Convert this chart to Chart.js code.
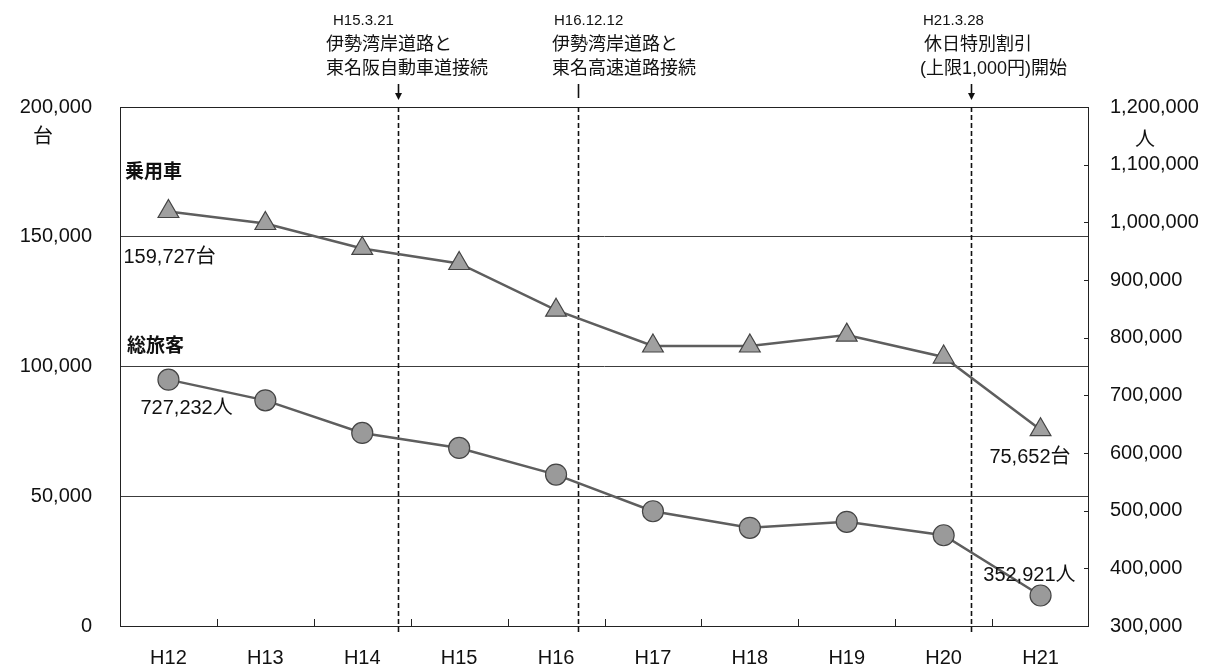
<!DOCTYPE html>
<html>
<head>
<meta charset="utf-8">
<script src="https://cdn.jsdelivr.net/npm/chart.js@4/dist/chart.umd.min.js"></script>
<style>
  html, body { margin: 0; padding: 0; background: #fff; }
  #wrap { position: relative; width: 1210px; height: 668px; }
</style>
</head>
<body>
<div id="wrap"><canvas id="c" width="1210" height="668"></canvas></div>
<script>
// Fiscal years (Heisei)
const years = ['H12', 'H13', 'H14', 'H15', 'H16', 'H17', 'H18', 'H19', 'H20', 'H21'];
// Passenger cars (台), left axis
const carValues = [159727, 155100, 145500, 139700, 121700, 107900, 107900, 112100, 103650, 75652];
// Total passengers (人), right axis
const passengerValues = [727232, 691300, 634800, 608800, 562600, 499000, 470200, 480600, 457400, 352921];
// Axis ticks
const leftTicks = [0, 50000, 100000, 150000, 200000];
const rightTicks = [300000, 400000, 500000, 600000, 700000, 800000, 900000, 1000000, 1100000, 1200000];
// Road / toll events, placed on the category axis
const eventPositions = [2.37, 4.23, 8.28];
const eventDates = ['H15.3.21', 'H16.12.12', 'H21.3.28'];
const eventNotes = [
  ['伊勢湾岸道路と', '東名阪自動車道接続'],
  ['伊勢湾岸道路と', '東名高速道路接続'],
  ['休日特別割引', '(上限1,000円)開始']
];
// Series names and unit captions
const seriesNames = ['乗用車', '総旅客'];
const unitLeft = '台';
const unitRight = '人';

const FONT = "'Liberation Sans', 'Noto Sans CJK JP', sans-serif";
const fmt = v => v.toLocaleString('en-US');

const overlay = {
  id: 'overlay',
  beforeDatasetsDraw(chart) {
    const { ctx, chartArea: a, scales } = chart;
    ctx.save();
    // frame
    ctx.strokeStyle = '#222';
    ctx.lineWidth = 1;
    ctx.strokeRect(a.left + 0.5, a.top + 0.5, a.right - a.left - 1, a.bottom - a.top);
    // category boundary ticks pointing inward
    const x = scales.x;
    const step = (a.right - a.left) / years.length;
    ctx.beginPath();
    for (let i = 1; i < years.length; i++) {
      const px = Math.round(a.left + step * i) + 0.5;
      ctx.moveTo(px, a.bottom);
      ctx.lineTo(px, a.bottom - 7);
    }
    // right axis ticks pointing inward
    const y1 = scales.y1;
    rightTicks.forEach(v => {
      const py = Math.round(y1.getPixelForValue(v)) + 0.5;
      ctx.moveTo(a.right, py);
      ctx.lineTo(a.right - 5, py);
    });
    ctx.stroke();
    // event dashed lines
    ctx.setLineDash([5, 3]);
    ctx.lineWidth = 1.6;
    ctx.strokeStyle = '#111';
    eventPositions.forEach(p => {
      const px = Math.round(x.getPixelForValue(p)) + 0.5;
      ctx.beginPath();
      ctx.moveTo(px, a.top);
      ctx.lineTo(px, a.bottom + 6);
      ctx.stroke();
    });
    ctx.restore();
  },
  afterDraw(chart) {
    const { ctx, chartArea: a, scales } = chart;
    const x = scales.x;
    ctx.save();
    ctx.fillStyle = '#111';
    ctx.textBaseline = 'middle';

    // event annotations
    const dateShift = [-65, -24, -48];
    const noteShift = [-72, -26, -51];
    eventPositions.forEach((p, i) => {
      const px = Math.round(x.getPixelForValue(p));
      ctx.textAlign = 'left';
      ctx.font = '15px ' + FONT;
      ctx.fillText(eventDates[i], px + dateShift[i], 21);
      ctx.font = '18px ' + FONT;
      eventNotes[i].forEach((t, k) => {
        ctx.fillText(t, px + noteShift[i] + (i === 2 && k === 0 ? 4 : 0), 45 + k * 24);
      });
      // pointer
      ctx.strokeStyle = '#111';
      ctx.lineWidth = 1.6;
      ctx.beginPath();
      ctx.moveTo(px + 0.5, 84);
      ctx.lineTo(px + 0.5, i === 1 ? 98 : 96);
      ctx.stroke();
      if (i !== 1) {
        ctx.beginPath();
        ctx.moveTo(px - 3, 93);
        ctx.lineTo(px + 4, 93);
        ctx.lineTo(px + 0.5, 100);
        ctx.closePath();
        ctx.fill();
      }
    });

    // axis units
    ctx.textAlign = 'center';
    ctx.font = '20px ' + FONT;
    ctx.fillText(unitLeft, 43, 137);
    ctx.fillText(unitRight, 1145, 140);

    // series names
    ctx.textAlign = 'left';
    ctx.font = 'bold 19px ' + FONT;
    ctx.fillText(seriesNames[0], a.left + 5, 173);
    ctx.fillText(seriesNames[1], a.left + 7, 347);

    // first / last value labels
    const carMeta = chart.getDatasetMeta(0).data;
    const pasMeta = chart.getDatasetMeta(1).data;
    const last = years.length - 1;
    ctx.font = '20px ' + FONT;
    ctx.textAlign = 'left';
    ctx.fillText(fmt(carValues[0]) + '台', carMeta[0].x - 45, carMeta[0].y + 46);
    ctx.fillText(fmt(passengerValues[0]) + '人', pasMeta[0].x - 28, pasMeta[0].y + 29);
    ctx.textAlign = 'right';
    ctx.fillText(fmt(carValues[last]) + '台', carMeta[last].x + 30, carMeta[last].y + 28);
    ctx.fillText(fmt(passengerValues[last]) + '人', pasMeta[last].x + 35, pasMeta[last].y - 20);
    ctx.restore();
  }
};

new Chart(document.getElementById('c'), {
  type: 'line',
  data: {
    labels: years,
    datasets: [
      {
        label: seriesNames[0],
        data: carValues,
        yAxisID: 'y',
        borderColor: '#5e5e5e',
        borderWidth: 2.5,
        tension: 0,
        pointStyle: 'triangle',
        pointRadius: 12,
        pointBackgroundColor: '#a0a0a0',
        pointBorderColor: '#444',
        pointBorderWidth: 1.2
      },
      {
        label: seriesNames[1],
        data: passengerValues,
        yAxisID: 'y1',
        borderColor: '#5e5e5e',
        borderWidth: 2.5,
        tension: 0,
        pointStyle: 'circle',
        pointRadius: 10.5,
        pointBackgroundColor: '#9a9a9a',
        pointBorderColor: '#444',
        pointBorderWidth: 1.2
      }
    ]
  },
  options: {
    responsive: false,
    animation: false,
    layout: { padding: { top: 107, left: 0, right: 0, bottom: 0 } },
    plugins: { legend: { display: false }, tooltip: { enabled: false } },
    scales: {
      x: {
        offset: true,
        grid: { display: false, drawTicks: false },
        border: { display: false },
        ticks: { padding: 20, color: '#111', font: { size: 20, family: FONT } },
        afterFit(s) { s.height = 42; }
      },
      y: {
        position: 'left',
        min: 0,
        max: 200000,
        afterBuildTicks(s) { s.ticks = leftTicks.map(v => ({ value: v })); },
        grid: {
          drawTicks: false,
          lineWidth: 1,
          color: c => (c.tick && (c.tick.value === 0 || c.tick.value === 200000)) ? 'rgba(0,0,0,0)' : '#3c3c3c'
        },
        border: { display: false },
        ticks: { padding: 28, color: '#111', font: { size: 20, family: FONT }, callback: v => fmt(v) },
        afterFit(s) { s.width = 120; }
      },
      y1: {
        position: 'right',
        min: 300000,
        max: 1200000,
        afterBuildTicks(s) { s.ticks = rightTicks.map(v => ({ value: v })); },
        grid: { display: false, drawTicks: false },
        border: { display: false },
        ticks: { padding: 21, color: '#111', font: { size: 20, family: FONT }, callback: v => fmt(v) },
        afterFit(s) { s.width = 121; }
      }
    }
  },
  plugins: [overlay]
});
</script>
</body>
</html>
